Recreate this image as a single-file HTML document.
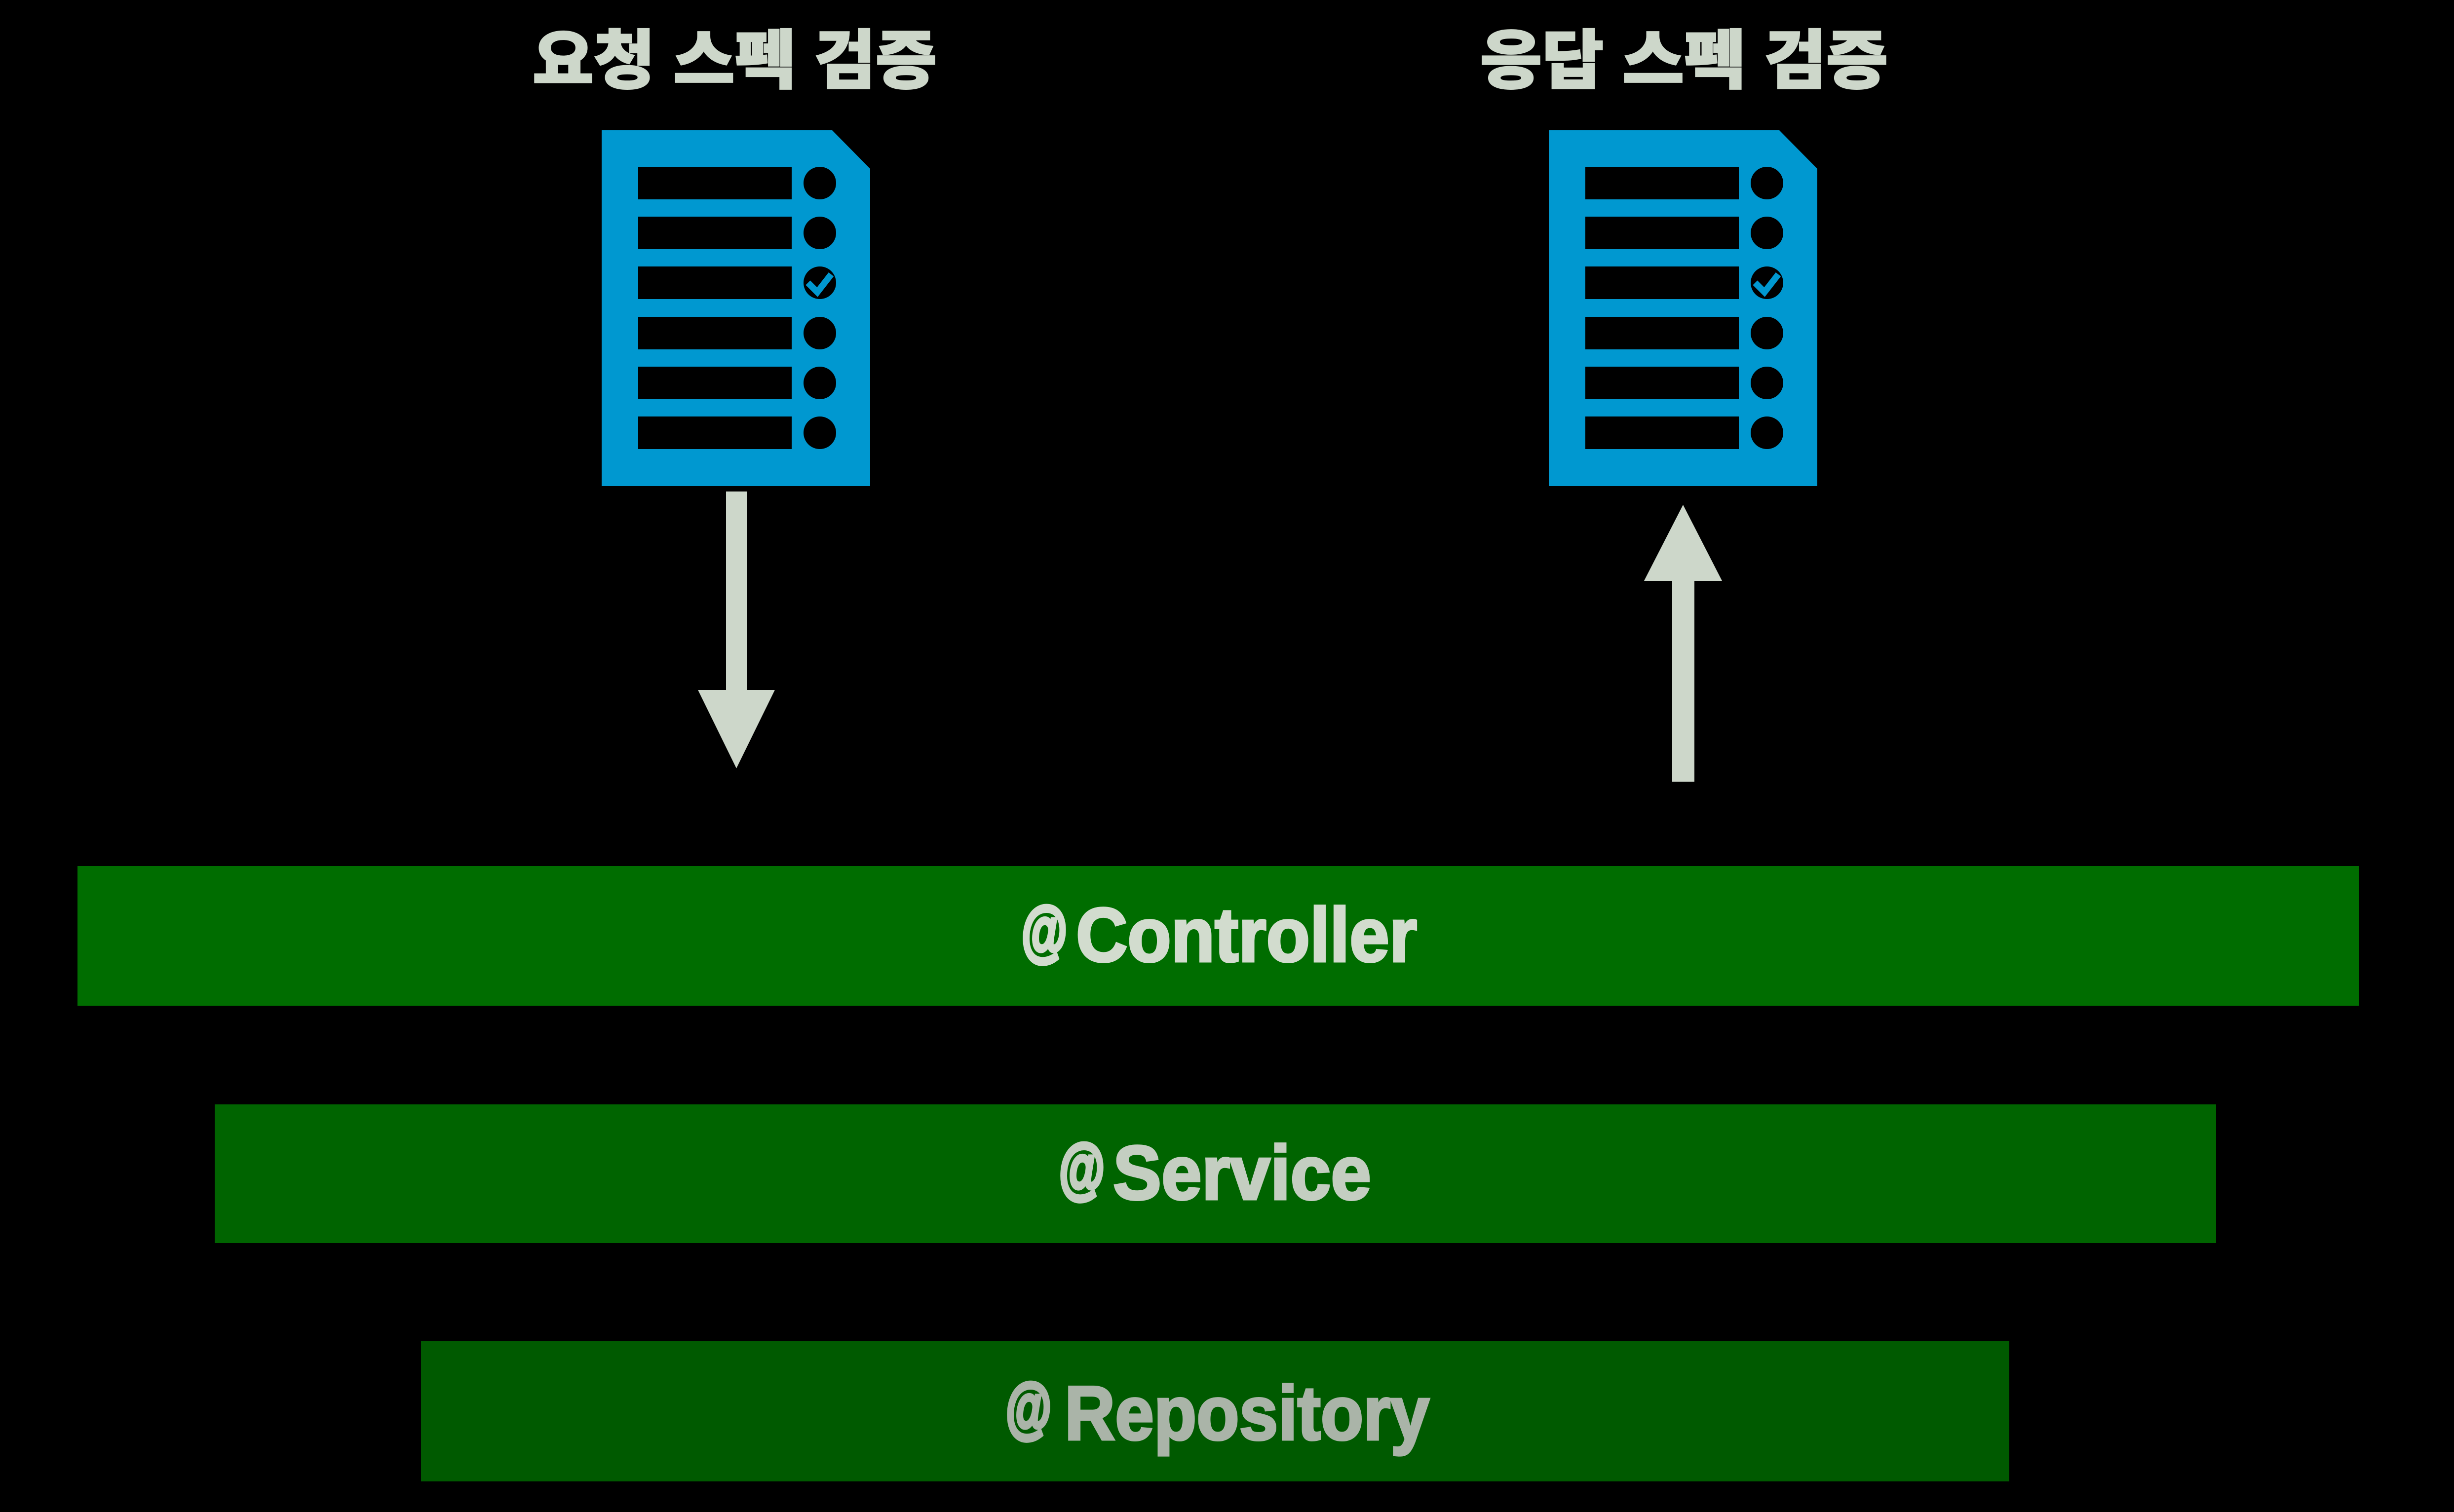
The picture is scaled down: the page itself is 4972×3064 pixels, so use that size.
<!DOCTYPE html>
<html lang="ko">
<head>
<meta charset="utf-8">
<title>스펙 검증</title>
<style>
html,body{margin:0;padding:0;background:#000;width:4972px;height:3064px;overflow:hidden}
svg{display:block}
.ko{font-family:"Liberation Sans","Noto Sans CJK KR",sans-serif;font-weight:900;font-size:130px;fill:#cdd7ca;stroke:#cdd7ca;stroke-width:3px}
.en{font-family:"Liberation Sans",sans-serif;font-weight:700;font-size:155px;stroke-width:5px}
.at{font-size:135px;stroke-width:9px}
</style>
</head>
<body>
<svg xmlns="http://www.w3.org/2000/svg" width="4972" height="3064" viewBox="0 0 4972 3064">
<defs>
  <g id="doc">
    <path d="M1219 264H1686L1763 342V985H1219Z" fill="#0098d0"/>
    <g fill="#000">
      <rect x="1293" y="338" width="311" height="66"/>
      <rect x="1293" y="439" width="311" height="66"/>
      <rect x="1293" y="540" width="311" height="66"/>
      <rect x="1293" y="642" width="311" height="66"/>
      <rect x="1293" y="743" width="311" height="66"/>
      <rect x="1293" y="844" width="311" height="66"/>
      <circle cx="1661" cy="371" r="33"/>
      <circle cx="1661" cy="472" r="33"/>
      <circle cx="1661" cy="573" r="33"/>
      <circle cx="1661" cy="675" r="33"/>
      <circle cx="1661" cy="776" r="33"/>
      <circle cx="1661" cy="877" r="33"/>
    </g>
    <path d="M1637 573L1656 592L1684 556" fill="none" stroke="#0098d0" stroke-width="13"/>
  </g>
</defs>
<rect width="4972" height="3064" fill="#000"/>

<text class="ko" x="1079" y="168" textLength="819" lengthAdjust="spacingAndGlyphs">요청 스펙 검증</text>
<text class="ko" x="2999" y="168" textLength="826" lengthAdjust="spacingAndGlyphs">응답 스펙 검증</text>

<use href="#doc"/>
<use href="#doc" x="1919"/>

<path d="M1471 996H1514V1398H1570L1492 1557L1414 1398H1471Z" fill="#cdd7ca"/>
<path d="M3410 1023L3489 1177H3433V1584H3388V1177H3331Z" fill="#cdd7ca"/>

<rect x="157" y="1755" width="4622" height="283" fill="#006d00"/>
<rect x="435" y="2238" width="4055" height="281" fill="#006400"/>
<rect x="853" y="2718" width="3218" height="284" fill="#005a00"/>

<text class="en at" x="2070" y="1932" textLength="92" lengthAdjust="spacingAndGlyphs" fill="#d2dcce" stroke="#d2dcce">@</text>
<text class="en" x="2180" y="1948" textLength="691" lengthAdjust="spacingAndGlyphs" fill="#d2dcce" stroke="#d2dcce">Controller</text>
<text class="en at" x="2146" y="2413" textLength="92" lengthAdjust="spacingAndGlyphs" fill="#c4cec1" stroke="#c4cec1">@</text>
<text class="en" x="2255" y="2430" textLength="523" lengthAdjust="spacingAndGlyphs" fill="#c4cec1" stroke="#c4cec1">Service</text>
<text class="en at" x="2038" y="2898" textLength="92" lengthAdjust="spacingAndGlyphs" fill="#aab4a8" stroke="#aab4a8">@</text>
<text class="en" x="2157" y="2917" textLength="739" lengthAdjust="spacingAndGlyphs" fill="#aab4a8" stroke="#aab4a8">Repository</text>
</svg>
</body>
</html>
